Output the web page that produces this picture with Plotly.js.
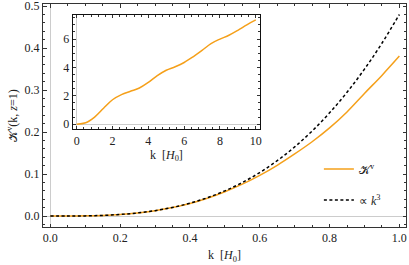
<!DOCTYPE html>
<html><head><meta charset="utf-8">
<script src="https://cdn.plot.ly/plotly-3.0.1.min.js"></script>
<style>html,body{margin:0;padding:0;background:#fff}#chart{width:409px;height:265px}</style>
</head><body><div id="chart"></div>
<script>
// main panel: k in units of H0
const kMain = [0,0.05,0.1,0.15,0.2,0.25,0.3,0.35,0.4,0.45,0.5,0.55,0.6,0.65,0.7,0.75,0.8,0.85,0.9,0.95,1.0];
const kvMain = [0,0.00006,0.0005,0.0016,0.0038,0.0074,0.0128,0.0202,0.030,0.0425,0.058,0.076,0.097,0.121,0.148,0.177,0.21,0.248,0.292,0.335,0.381];
const k3Main = [0,0.00006,0.00048,0.00162,0.00384,0.0075,0.01296,0.02058,0.03072,0.04374,0.06,0.07986,0.10368,0.13182,0.16464,0.2025,0.24576,0.29478,0.34992,0.41154,0.48];
// inset
const kInset = [0,0.5,1.0,1.5,2.0,2.5,3.0,3.5,4.0,4.5,5.0,5.5,6.0,6.5,7.0,7.5,8.0,8.5,9.0,9.5,10];
const kvInset = [0,0.1,0.5,1.12,1.72,2.08,2.32,2.55,2.95,3.42,3.8,4.05,4.35,4.75,5.2,5.68,6.0,6.27,6.62,7.0,7.35];
const mainXTicks = [0,0.2,0.4,0.6,0.8,1.0];
const mainXText = ['0.0','0.2','0.4','0.6','0.8','1.0'];
const mainYTicks = [0,0.1,0.2,0.3,0.4,0.5];
const mainYText = ['0.0','0.1','0.2','0.3','0.4','0.5'];
const insetXTicks = [0,2,4,6,8,10];
const insetYTicks = [0,2,4,6];

const orange = '#f5a01a';
const serif = 'Liberation Serif';
const frame = '#333';

const traces = [
  {x:kMain, y:kvMain, type:'scatter', mode:'lines', line:{color:orange, width:1.5, shape:'spline'},
   name:'𝒦<sup>v</sup>', legendgroup:'a', xaxis:'x', yaxis:'y'},
  {x:kMain, y:k3Main, type:'scatter', mode:'lines', line:{color:'#000', width:1.5, dash:'3px,2.5px', shape:'spline'},
   name:'∝ <i>k</i><sup>3</sup>', legendgroup:'b', xaxis:'x', yaxis:'y'},
  {x:kInset, y:kvInset, type:'scatter', mode:'lines', line:{color:orange, width:1.5, shape:'spline'},
   showlegend:false, xaxis:'x2', yaxis:'y2'}
];

function ax(o){
  return Object.assign({
    showline:true, linecolor:frame, linewidth:1, mirror:'allticks',
    ticks:'inside', ticklen:3.5, tickwidth:1, tickcolor:frame,
    showgrid:false, zeroline:true, zerolinecolor:'#cccccc', zerolinewidth:1,
    ticklabeloverflow:'allow',
    tickfont:{family:serif, size:12, color:'#222'}, fixedrange:true
  }, o);
}

const layout = {
  width:409, height:265,
  margin:{l:43, r:3, t:4, b:38},
  paper_bgcolor:'#fff', plot_bgcolor:'#fff',
  font:{family:serif},
  showlegend:true,
  legend:{x:0.76, xanchor:'left', y:0.325, yanchor:'top', bgcolor:'rgba(0,0,0,0)',
          font:{family:serif, size:12, color:'#222'}, traceorder:'grouped', tracegroupgap:12},
  xaxis: ax({range:[-0.021,1.019], tickvals:mainXTicks, ticktext:mainXText,
    minor:{dtick:0.05, ticks:'inside', ticklen:2, tickcolor:frame},
    title:{text:'k  [<i>H</i><sub>0</sub>]', font:{family:serif, size:12, color:'#222'}, standoff:6}}),
  yaxis: ax({range:[-0.026,0.505], tickvals:mainYTicks, ticktext:mainYText,
    minor:{dtick:0.02, ticks:'inside', ticklen:2, tickcolor:frame},
    title:{text:'𝒦<sup>v</sup>(k, <i>z</i>=1)', font:{family:serif, size:12, color:'#222'}, standoff:4}}),
  xaxis2: ax({domain:[0.082,0.598], anchor:'y2', range:[-0.22,10.24], tickvals:insetXTicks,
    minor:{dtick:0.4, ticks:'inside', ticklen:2, tickcolor:frame},
    linecolor:'#111', linewidth:1.2,
    title:{text:'k  [<i>H</i><sub>0</sub>]', font:{family:serif, size:12, color:'#222'}, standoff:2}}),
  yaxis2: ax({domain:[0.439,0.952], anchor:'x2', range:[-0.35,7.72], tickvals:insetYTicks,
    minor:{dtick:0.5, ticks:'inside', ticklen:2, tickcolor:frame},
    linecolor:'#111', linewidth:1.2})
};

Plotly.newPlot('chart', traces, layout, {displayModeBar:false, staticPlot:true});
</script></body></html>
